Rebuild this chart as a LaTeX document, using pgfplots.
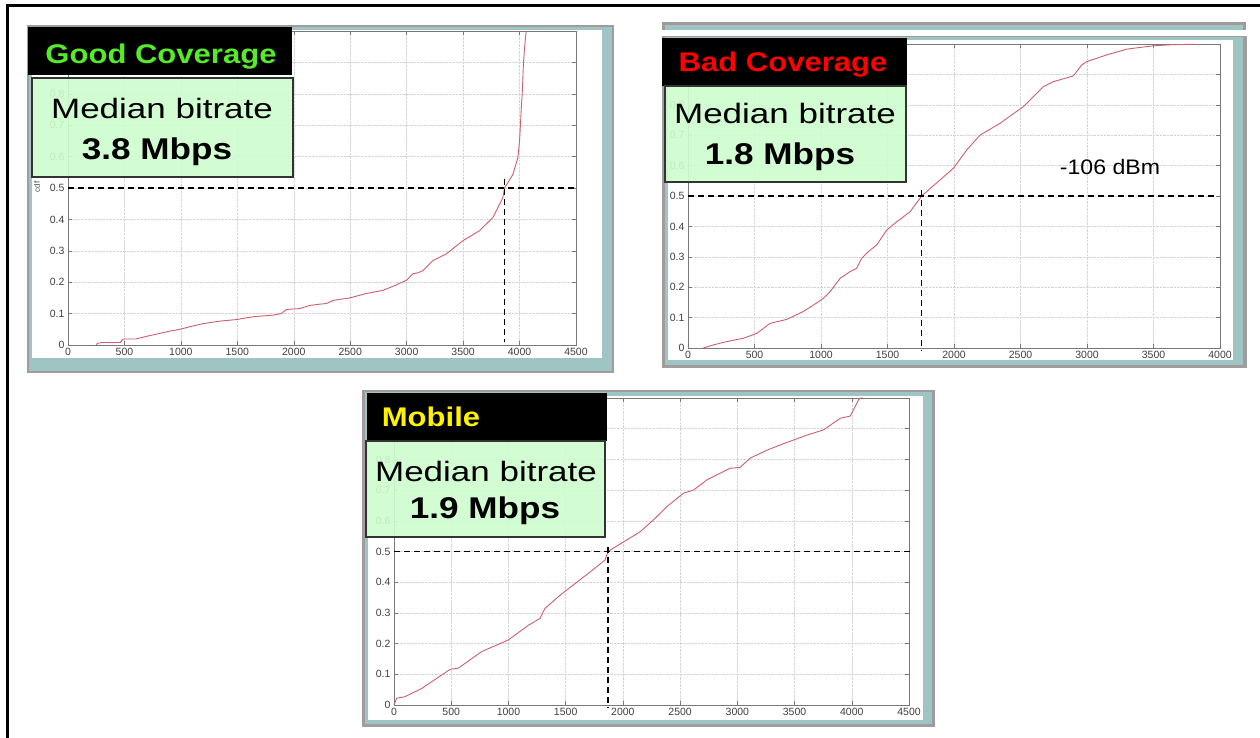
\documentclass[border=0pt]{standalone}
\usepackage{fontspec}
\setmainfont{Liberation Sans}
\usepackage{graphicx}
\usepackage{pgfplots}
\pgfplotsset{compat=1.18}

\definecolor{tealband}{RGB}{158,196,196}
\definecolor{grayframe}{RGB}{160,156,156}
\definecolor{boxgreen}{RGB}{206,252,206}
\definecolor{cdfred}{RGB}{205,95,110}
\definecolor{titlegreen}{RGB}{85,235,40}
\definecolor{gridgray}{RGB}{212,212,212}
\definecolor{axisgray}{RGB}{120,120,120}

\pgfplotsset{
  panel/.style={
    scale only axis,
    anchor=south west,
    clip=false,
    ymin=0, ymax=1,
    xmin=0,
    ytick={0,0.1,0.2,0.3,0.4,0.5,0.6,0.7,0.8,0.9,1},
    yticklabels={0,0.1,0.2,0.3,0.4,0.5,0.6,0.7,0.8,{},{}},
    axis line style={axisgray, line width=0.6pt},
    tick style={axisgray, line width=0.5pt},
    major tick length=4pt,
    grid=major,
    major grid style={gridgray, densely dotted, line width=0.5pt},
    ticklabel style={font=\fontsize{10.5}{12}\selectfont, text=black!75},
    /pgf/number format/assume math mode=true,
    /pgf/number format/1000 sep={},
  },
  cdf/.style={cdfred, line width=0.9pt, no marks},
  med/.style={black, line width=1.3pt, dash pattern=on 6pt off 4pt},
}

\begin{document}
\begin{tikzpicture}
\useasboundingbox (0,0) rectangle (1260pt,738pt);

% ---------- frames (image pixel coordinates) ----------
\begin{scope}[x=1pt,y=-1pt,yshift=738pt]
  \draw[black, line width=2.5pt] (7.5,738) -- (7.5,5.5) -- (1260,5.5);
  % panel 1
  \fill[grayframe] (27,373) rectangle (614,25);
  \fill[tealband] (29,371) rectangle (612,27.5);
  \fill[white] (31.5,358) rectangle (602,30.5);
  % panel 2 strip + panel
  \fill[grayframe] (662,30) rectangle (1246,22);
  \fill[tealband] (665,30) rectangle (1243,25);
  \fill[grayframe] (662,368) rectangle (1247,36.5);
  \fill[tealband] (665,365) rectangle (1243,37);
  \fill[white] (668,360) rectangle (1233,40);
  % panel 3
  \fill[grayframe] (362,727) rectangle (935,390);
  \fill[tealband] (365,724) rectangle (932,392.5);
  \fill[white] (368,720) rectangle (923,396);
\end{scope}

% ---------- Panel 1: Good coverage ----------
\begin{axis}[panel, at={(68pt,393pt)}, width=508pt, height=314pt,
  xmax=4500, xtick={0,500,1000,1500,2000,2500,3000,3500,4000,4500}]
\addplot[cdf] coordinates {
(250,0) (260,0.005) (300,0.008) (460,0.008) (490,0.019) (600,0.019) (700,0.028)
(814,0.037) (900,0.044) (991,0.05) (1100,0.06) (1197,0.068) (1345,0.076)
(1493,0.081) (1640,0.09) (1817,0.095) (1890,0.1) (1935,0.113) (2053,0.116)
(2142,0.126) (2230,0.13) (2289,0.132) (2348,0.142) (2496,0.15) (2643,0.164)
(2790,0.174) (2900,0.19) (2997,0.206) (3056,0.227) (3100,0.23) (3145,0.237)
(3233,0.269) (3351,0.29) (3498,0.332) (3646,0.364) (3764,0.406) (3852,0.469)
(3867,0.5) (3941,0.543) (3985,0.596) (4000,0.65) (4015,0.75) (4023,0.796)
(4035,0.9) (4050,0.97) (4059,1.0)};
\addplot[med] coordinates {(0,0.5) (4500,0.5)};
\addplot[med] coordinates {(3867,0.53) (3867,0.01)};
\end{axis}

% ---------- Panel 2: Bad coverage ----------
\begin{axis}[panel, at={(688pt,390pt)}, width=532pt, height=304pt,
  xmax=4000, xtick={0,500,1000,1500,2000,2500,3000,3500,4000}]
\addplot[cdf] coordinates {
(115,0) (190,0.01) (291,0.021) (416,0.032) (517,0.048) (617,0.081) (742,0.094)
(867,0.12) (942,0.141) (1017,0.163) (1068,0.185) (1143,0.229) (1218,0.251)
(1268,0.262) (1306,0.295) (1356,0.317) (1419,0.339) (1494,0.388) (1569,0.415)
(1669,0.448) (1757,0.5) (1895,0.553) (1995,0.591) (2095,0.651) (2195,0.70)
(2346,0.739) (2521,0.794) (2672,0.86) (2747,0.876) (2897,0.895) (2960,0.931)
(2998,0.942) (3148,0.964) (3298,0.983) (3498,0.994) (3650,0.998) (3825,0.999)};
\addplot[med] coordinates {(0,0.5) (3962,0.5)};
\addplot[med] coordinates {(1757,0.52) (1757,-0.01)};
\end{axis}

% ---------- Panel 3: Mobile ----------
\begin{axis}[panel, at={(394pt,33pt)}, width=515pt, height=307pt,
  xmax=4500, xtick={0,500,1000,1500,2000,2500,3000,3500,4000,4500}]
\addplot[cdf] coordinates {
(0,0) (23,0.022) (96,0.027) (242,0.054) (490,0.116) (562,0.12) (766,0.174)
(883,0.193) (1000,0.212) (1175,0.26) (1276,0.282) (1320,0.315) (1437,0.353)
(1510,0.375) (1699,0.429) (1844,0.472) (1870,0.5) (2000,0.53) (2150,0.564)
(2267,0.603) (2384,0.646) (2529,0.69) (2617,0.70) (2733,0.733) (2850,0.755)
(2937,0.771) (3024,0.774) (3112,0.804) (3258,0.83) (3374,0.847) (3490,0.863)
(3607,0.879) (3753,0.896) (3899,0.934) (3986,0.941) (4029,0.972) (4060,0.995)
(4073,1.0) (4100,1.0)};
\addplot[med] coordinates {(0,0.5) (4535,0.5)};
\addplot[med] coordinates {(1870,0.515) (1870,-0.007)};
\end{axis}

% ---------- boxes and labels ----------
\begin{scope}[x=1pt,y=-1pt,yshift=738pt]
  \node[rotate=90, inner sep=0, font=\fontsize{8}{9}\selectfont, text=black!70] at (37,187) {cdf};

  % panel 1
  \fill[black] (28,75) rectangle (292,27);
  \filldraw[fill=boxgreen, fill opacity=0.9, draw=black!80, line width=1.2pt] (32,177) rectangle (293,78);
  \node[anchor=base, inner sep=0, text=titlegreen, font=\bfseries\fontsize{27}{32}\selectfont] at (161,63.3) {\scalebox{1.15}[1]{Good Coverage}};
  \node[anchor=base, inner sep=0, font=\fontsize{28}{34}\selectfont] at (162,118.3) {\scalebox{1.25}[1]{Median bitrate}};
  \node[anchor=base, inner sep=0, font=\bfseries\fontsize{30}{36}\selectfont] at (157,160) {\scalebox{1.17}[1]{3.8 Mbps}};

  % panel 2
  \fill[black] (662,86) rectangle (907,38);
  \filldraw[fill=boxgreen, fill opacity=0.9, draw=black!80, line width=1.2pt] (665,182) rectangle (906,86);
  \node[anchor=base, inner sep=0, text=red, font=\bfseries\fontsize{27}{32}\selectfont] at (783,71.7) {\scalebox{1.15}[1]{Bad Coverage}};
  \node[anchor=base, inner sep=0, font=\fontsize{28}{34}\selectfont] at (785,123.3) {\scalebox{1.25}[1]{Median bitrate}};
  \node[anchor=base, inner sep=0, font=\bfseries\fontsize{30}{36}\selectfont] at (780,165) {\scalebox{1.17}[1]{1.8 Mbps}};
  \node[anchor=base, inner sep=0, font=\fontsize{21}{25}\selectfont] at (1110,175) {\scalebox{1.1}[1]{-106 dBm}};

  % panel 3
  \fill[black] (367,441) rectangle (607,393);
  \filldraw[fill=boxgreen, fill opacity=0.9, draw=black!80, line width=1.2pt] (366,537) rectangle (605,441);
  \node[anchor=base, inner sep=0, text=yellow, font=\bfseries\fontsize{27}{32}\selectfont] at (431,426.7) {\scalebox{1.15}[1]{Mobile}};
  \node[anchor=base, inner sep=0, font=\fontsize{28}{34}\selectfont] at (486,481.7) {\scalebox{1.25}[1]{Median bitrate}};
  \node[anchor=base, inner sep=0, font=\bfseries\fontsize{30}{36}\selectfont] at (485,518.3) {\scalebox{1.17}[1]{1.9 Mbps}};
\end{scope}
\end{tikzpicture}
\end{document}
